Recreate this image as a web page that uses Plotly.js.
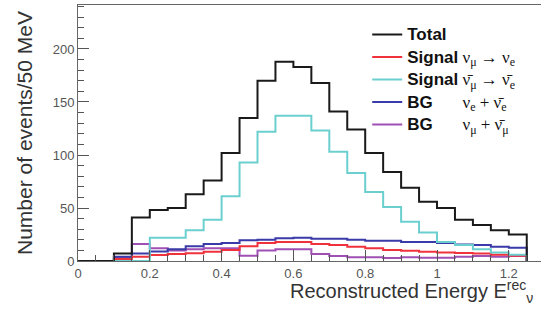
<!DOCTYPE html>
<html>
<head>
<meta charset="utf-8">
<script src="https://cdn.plot.ly/plotly-3.0.1.min.js"></script>
<style>
html,body{margin:0;padding:0;overflow:hidden;background:#fff;width:541px;height:314px;}
#chart{width:546px;height:314px;}
</style>
</head>
<body>
<div id="chart"></div>
<script>
// Bin edges of the reconstructed-energy histogram (GeV)
const binEdges = [0,0.05,0.1,0.15,0.2,0.25,0.3,0.35,0.4,0.45,0.5,0.55,0.6,0.65,0.7,0.75,0.8,0.85,0.9,0.95,1.0,1.05,1.1,1.15,1.2,1.25];
// Events per 50 MeV bin
const totalEvents   = [0,0,7,41,48,50,63,76,102,135,170,188,183,168,141,124,102,84,69,56,50,39,34,29,25];
const signalNuMu    = [0,0,2,4,5.7,6.6,7.2,8.8,10.4,14,17,18,18,16,15,13.5,12,10.4,9.7,8.8,8,7.5,7,6,5];
const signalAntiNu  = [0,0,0,0,22,22,29,39,61,93,122,137,137,123,103,83,65,51,37,27,18,15,11,8,6];
const bgNuE         = [0,0,4,7,9,11,14,16,17,19.5,20,21.5,22,21,21,20,19,19,18,18,17,15.5,15,13.5,12.5];
const bgNuMu        = [0,0,3,16,12,10,11,12,12,5,10,11,11,6.5,4.7,3.5,3.5,2.8,3.5,3,3,4,4.7,4,4.7];

const seriesNames = [
  '<span style="font-size:17px;font-weight:bold">Total</span>',
  '<span style="font-size:17px;font-weight:bold">Signal</span><span style="font-family:Liberation Serif;font-size:17px"> ν<sub>μ</sub> → ν<sub>e</sub></span>',
  '<span style="font-size:17px;font-weight:bold">Signal</span><span style="font-family:Liberation Serif;font-size:17px"> ν̄<sub>μ</sub> → ν̄<sub>e</sub></span>',
  '<span style="font-size:17px;font-weight:bold">BG</span><span style="font-family:Liberation Serif;font-size:17px">\u00a0\u00a0\u00a0\u00a0\u00a0\u00a0\u00a0ν<sub>e</sub> + ν̄<sub>e</sub></span>',
  '<span style="font-size:17px;font-weight:bold">BG</span><span style="font-family:Liberation Serif;font-size:17px">\u00a0\u00a0\u00a0\u00a0\u00a0\u00a0\u00a0ν<sub>μ</sub> + ν̄<sub>μ</sub></span>'
];
const seriesData = [totalEvents, signalNuMu, signalAntiNu, bgNuE, bgNuMu];
const seriesColors = ['#1a1a1a', '#f0323c', '#6ccfcf', '#3a3aa8', '#a050b4'];

function stepTrace(vals, name, color) {
  // histogram outline: step at each bin edge, closing down to zero at the last edge
  const x = binEdges.slice();
  const y = vals.concat([vals[vals.length - 1]]);
  x.push(binEdges[binEdges.length - 1]);
  y.push(0);
  return {
    type: 'scatter', mode: 'lines', x: x, y: y, name: name,
    line: {shape: 'hv', color: color, width: 2},
    hoverinfo: 'skip'
  };
}

// draw background series first, total last; legend keeps original order
const traces = seriesData.map((d, i) => stepTrace(d, seriesNames[i], seriesColors[i]));
const drawOrder = [4, 3, 1, 2, 0];
const data = drawOrder.map(i => Object.assign(traces[i], {legendrank: i + 1}));

const axisGray = '#555';
const layout = {
  width: 546, height: 314,
  margin: {l: 78, r: 0, t: 5, b: 53},
  paper_bgcolor: '#fff', plot_bgcolor: '#fff',
  font: {family: 'Liberation Sans, Arial, sans-serif', color: '#333'},
  showlegend: true,
  legend: {
    x: 0.618, y: 0.948, xanchor: 'left', yanchor: 'top',
    bgcolor: 'rgba(0,0,0,0)', borderwidth: 0,
    font: {size: 15, color: '#111', family: 'Liberation Sans, Arial, sans-serif'},
    traceorder: 'normal'
  },
  xaxis: {
    range: [0, 1.3036], showgrid: false, zeroline: false,
    showline: true, linecolor: '#666', linewidth: 1, mirror: true,
    ticks: 'inside', ticklen: 11, tickcolor: axisGray, tickwidth: 1,
    tickvals: [0, 0.2, 0.4, 0.6, 0.8, 1, 1.2], ticktext: ['0','0.2','0.4','0.6','0.8','1','1.2'],
    minor: {dtick: 0.05, ticks: 'inside', ticklen: 6, tickcolor: axisGray, showgrid: false},
    tickfont: {size: 13, color: '#555'},
    automargin: false
  },
  yaxis: {
    range: [0, 241.5], showgrid: false, zeroline: false,
    showline: true, linecolor: '#666', linewidth: 1,
    ticks: 'inside', ticklen: 11, tickcolor: axisGray, tickwidth: 1,
    tickvals: [0, 50, 100, 150, 200], ticktext: ['0','50','100','150','200'],
    minor: {dtick: 10, ticks: 'inside', ticklen: 6, tickcolor: axisGray, showgrid: false},
    tickfont: {size: 13, color: '#555'},
    title: {text: 'Number of events/50 MeV', font: {size: 21, color: '#333'}, standoff: 14},
    automargin: false
  },
  annotations: [{
    xref: 'paper', yref: 'paper', x: 0.4487, y: -0.121, xanchor: 'left', yanchor: 'middle',
    text: 'Reconstructed Energy E<sup>rec</sup><sub>ν</sub>', showarrow: false,
    font: {size: 20, color: '#333', family: 'Liberation Sans, Arial, sans-serif'}
  }]
};

Plotly.newPlot('chart', data, layout, {displayModeBar: false, staticPlot: true});
</script>
</body>
</html>
